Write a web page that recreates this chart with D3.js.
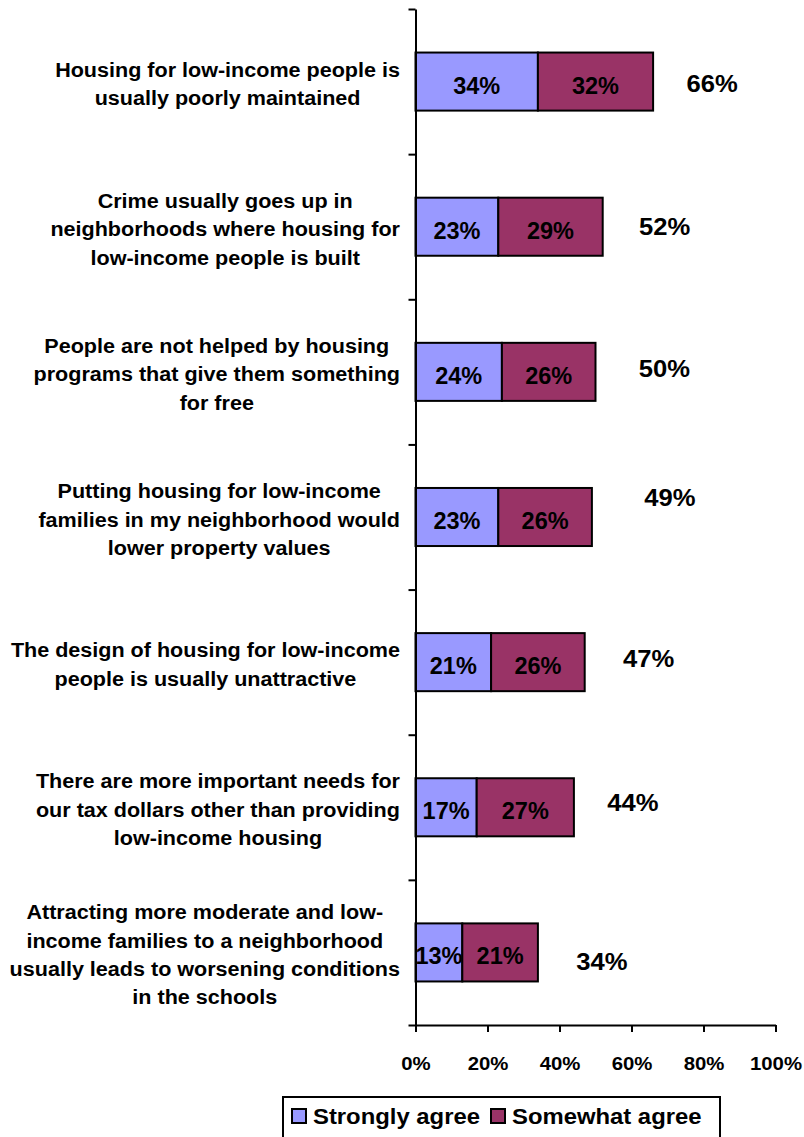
<!DOCTYPE html>
<html>
<head>
<meta charset="utf-8">
<script src="https://cdn.jsdelivr.net/npm/d3@7/dist/d3.min.js"></script>
<style>
  html, body { margin: 0; padding: 0; background: #fff; }
  svg { display: block; }
  text { font-family: "Liberation Sans", Arial, Helvetica, sans-serif; font-weight: bold; fill: #000; }
</style>
</head>
<body>
<svg id="chart" width="804" height="1137"></svg>
<script>
// Statements (each one wrapped onto its display lines)
const statements = [
  ["Housing for low-income people is", "usually poorly maintained"],
  ["Crime usually goes up in", "neighborhoods where housing for", "low-income people is built"],
  ["People are not helped by housing", "programs that give them something", "for free"],
  ["Putting housing for low-income", "families in my neighborhood would", "lower property values"],
  ["The design of housing for low-income", "people is usually unattractive"],
  ["There are more important needs for", "our tax dollars other than providing", "low-income housing"],
  ["Attracting more moderate and low-", "income families to a neighborhood", "usually leads to worsening conditions", "in the schools"]
];

// Percent agreeing, by strength
const seriesNames = ["Strongly agree", "Somewhat agree"];
const stronglyAgree = [34, 23, 24, 23, 21, 17, 13];
const somewhatAgree = [32, 29, 26, 26, 26, 27, 21];
const totalAgree    = [66, 52, 50, 49, 47, 44, 34];

const xTicks = [0, 20, 40, 60, 80, 100];

// Hand placement of the total labels: [dx from bar end, dy from bar centre]
const totalNudge = [[59, 1.5], [62, 0], [69, -3], [78, -19.5], [64, -4], [59, -5], [64, 9]];

const colors = ["#9999FF", "#993366"];

const svg = d3.select("#chart");

const plot = { left: 415.5, right: 775.5, top: 9, bottom: 1025 };

const x = d3.scaleLinear().domain([0, 100]).range([plot.left, plot.right]);
const y = d3.scaleBand()
  .domain(d3.range(statements.length))
  .range([plot.top, plot.bottom])
  .paddingInner(0.6)
  .paddingOuter(0.3);
// boundaries between categories, for the axis tick marks
const yEdge = d3.scaleLinear().domain([0, statements.length]).range([plot.top, plot.bottom]);

const rows = statements.map((s, i) => ({
  i, lines: s,
  parts: [
    { k: 0, x0: 0, x1: stronglyAgree[i], v: stronglyAgree[i] },
    { k: 1, x0: stronglyAgree[i], x1: stronglyAgree[i] + somewhatAgree[i], v: somewhatAgree[i] }
  ],
  total: totalAgree[i]
}));

// Bars
const rowG = svg.append("g").selectAll("g").data(rows).join("g");
rowG.selectAll("rect").data(d => d.parts.map(p => ({ ...p, i: d.i }))).join("rect")
  .attr("x", p => x(p.x0))
  .attr("y", p => y(p.i))
  .attr("width", p => x(p.x1) - x(p.x0))
  .attr("height", y.bandwidth())
  .attr("fill", p => colors[p.k])
  .attr("stroke", "#000")
  .attr("stroke-width", 2);

// Segment values
rowG.selectAll("text.seg").data(d => d.parts.map(p => ({ ...p, i: d.i }))).join("text")
  .attr("class", "seg")
  .attr("text-anchor", "middle")
  .attr("font-size", 23.5)
  .attr("x", p => (x(p.x0) + x(p.x1)) / 2)
  .attr("y", p => y(p.i) + y.bandwidth() / 2 + 12)
  .text(p => p.v + "%");

// Totals
rowG.append("text")
  .attr("text-anchor", "middle")
  .attr("font-size", 23.5)
  .attr("transform", d => {
    const n = totalNudge[d.i];
    const cx = x(d.total) + n[0];
    const cy = y(d.i) + y.bandwidth() / 2 + n[1] + 8.5;
    return `translate(${cx},${cy}) scale(1.09,1)`;
  })
  .text(d => d.total + "%");

// Statement labels: lines centred within a block whose right edge sits at the axis
const labelRight = 400, lineH = 28.3, labelSX = 1.1;
const labelG = svg.append("g").selectAll("g").data(rows).join("g");
labelG.each(function (d) {
  const g = d3.select(this);
  const cy = y(d.i) + y.bandwidth() / 2;
  const n = d.lines.length;
  const texts = g.selectAll("text").data(d.lines).join("text")
    .attr("text-anchor", "middle")
    .attr("font-size", 19.6)
    .text(t => t);
  let maxW = 0;
  texts.each(function () { maxW = Math.max(maxW, this.getComputedTextLength() * labelSX); });
  const cx = labelRight - maxW / 2;
  texts.attr("transform", (t, j) =>
    `translate(${cx},${cy + (j - (n - 1) / 2) * lineH + 9.5}) scale(${labelSX},1)`);
});

// Y axis with tick marks between categories
const yAxis = svg.append("g")
  .attr("transform", `translate(${plot.left},0)`)
  .call(d3.axisLeft(yEdge).tickValues(d3.range(statements.length + 1)).tickSize(7).tickSizeOuter(0).tickFormat(""));
yAxis.selectAll("path, line").attr("stroke", "#000").attr("stroke-width", 2);

// X axis
const xAxis = svg.append("g")
  .attr("transform", `translate(0,${plot.bottom})`)
  .call(d3.axisBottom(x).tickValues(xTicks).tickSize(7).tickSizeOuter(0).tickFormat(d => d + "%"));
xAxis.selectAll("path, line").attr("stroke", "#000").attr("stroke-width", 2);
xAxis.selectAll("text")
  .attr("y", null).attr("dy", null)
  .attr("font-size", 18.5)
  .attr("font-family", null)
  .attr("fill", "#000")
  .attr("transform", "translate(0,45) scale(1.1,1)");
xAxis.attr("font-family", null).attr("font-size", null);

// Legend
const legend = svg.append("g");
legend.append("rect")
  .attr("x", 283).attr("y", 1097)
  .attr("width", 437).attr("height", 60)
  .attr("fill", "#fff").attr("stroke", "#000").attr("stroke-width", 2);
const legendX = [292, 491];
seriesNames.forEach((name, k) => {
  legend.append("rect")
    .attr("x", legendX[k]).attr("y", 1109)
    .attr("width", 14).attr("height", 14)
    .attr("fill", colors[k]).attr("stroke", "#000").attr("stroke-width", 2);
  legend.append("text")
    .attr("font-size", 22.3)
    .attr("transform", `translate(${legendX[k] + 21},1124) scale(1.07,1)`)
    .text(name);
});
</script>
</body>
</html>
